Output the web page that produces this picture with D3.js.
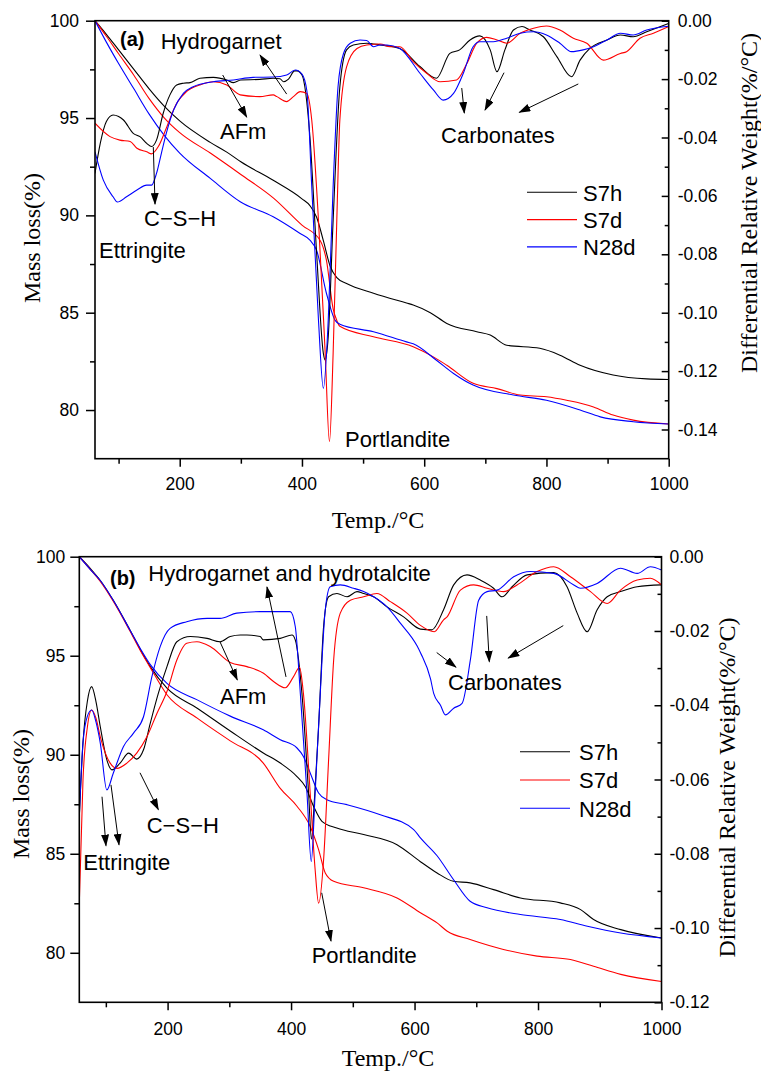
<!DOCTYPE html>
<html>
<head>
<meta charset="utf-8">
<script src="https://cdn.jsdelivr.net/npm/d3@7"></script>
<style>
  body { margin: 0; background: #fff; }
  svg text { fill: #000; }
</style>
</head>
<body>
<svg id="chart" width="761" height="1072"></svg>
<script>
// ---------- Series and tick values ----------
const seriesNames = ["S7h", "S7d", "N28d"];
const tempTicks = [200, 400, 600, 800, 1000];
const tempMinorTicks = [100, 300, 500, 700, 900];
const massTicks = [80, 85, 90, 95, 100];
const massMinorTicks = [82.5, 87.5, 92.5, 97.5];
const dtgTicksA = [0, -0.02, -0.04, -0.06, -0.08, -0.10, -0.12, -0.14];
const dtgMinorTicksA = [-0.01, -0.03, -0.05, -0.07, -0.09, -0.11, -0.13];
const dtgTicksB = [0, -0.02, -0.04, -0.06, -0.08, -0.10, -0.12];
const dtgMinorTicksB = [-0.01, -0.03, -0.05, -0.07, -0.09, -0.11];

// ---------- Panel (a): mass loss (%), [temperature, value] ----------
const massA_S7h = [[61.4,100],[80,99.3],[100,98.5],[125,97.5],[150,96.5],[175,95.6],[200,94.85],[250,93.75],[277,93.25],[300,92.75],[353,91.8],[400,90.85],[413,90.5],[424,89.9],[435,88.7],[446,87.4],[457,86.8],[473,86.5],[517,86.0],[571,85.5],[582,85.4],[610,85.0],[637,84.45],[686,84.02],[708,83.85],[735,83.33],[789,83.17],[822,82.82],[855,82.3],[909,81.8],[964,81.6],[1000,81.57]];
const massA_S7d = [[61.4,100],[80,99.2],[100,98.3],[125,97.2],[150,96.0],[175,95.0],[200,94.25],[250,93.2],[300,92.1],[353,90.9],[400,89.5],[430,88.7],[440,87.7],[451,85.2],[457,84.6],[462,84.3],[517,83.76],[582,83.25],[615,82.73],[637,82.3],[680,81.37],[719,81.1],[757,80.77],[800,80.68],[833,80.5],[877,80.16],[909,79.74],[942,79.48],[1000,79.28]];
const massA_N28d = [[61.4,100],[80,98.9],[100,97.8],[125,96.5],[150,95.2],[175,94.1],[200,93.2],[250,91.9],[299,90.7],[353,89.93],[397,89.07],[413,88.73],[424,88.2],[440,86.0],[454,84.62],[462,84.41],[517,84.02],[571,83.5],[582,83.4],[620,82.56],[648,81.88],[680,81.28],[746,80.77],[800,80.5],[855,80.0],[888,79.65],[942,79.4],[1000,79.28]];

// ---------- Panel (a): differential weight (%/°C) ----------
const dtgA_S7h = [[61.4,-0.0523],[70,-0.042],[80,-0.0345],[91,-0.0323],[100,-0.0328],[108,-0.034],[124,-0.0386],[135,-0.0397],[146,-0.042],[154,-0.0431],[162,-0.0409],[173,-0.0317],[184,-0.0254],[195,-0.022],[206,-0.0214],[217,-0.0212],[233,-0.0197],[255,-0.0194],[277,-0.0203],[288,-0.0212],[300,-0.0203],[331,-0.0201],[353,-0.0197],[364,-0.0199],[370,-0.0209],[378,-0.0200],[388,-0.0172],[392,-0.0172],[400,-0.0186],[413,-0.0397],[424,-0.0797],[435,-0.1139],[438,-0.1162],[443,-0.1082],[451,-0.0683],[462,-0.0226],[473,-0.0100],[484,-0.0083],[506,-0.0077],[528,-0.0083],[560,-0.0095],[593,-0.0157],[620,-0.0197],[642,-0.0112],[658,-0.0100],[675,-0.0066],[691,-0.0052],[708,-0.0100],[719,-0.0175],[732,-0.0100],[746,-0.0032],[760,-0.0020],[773,-0.0032],[795,-0.0055],[817,-0.0123],[841,-0.0192],[855,-0.0135],[871,-0.0095],[899,-0.0066],[921,-0.0049],[942,-0.0055],[964,-0.0038],[1000,-0.0009]];
const dtgA_S7d = [[61.4,-0.0351],[86,-0.0397],[102,-0.0409],[119,-0.0414],[130,-0.0437],[146,-0.0449],[154,-0.0456],[165,-0.0431],[179,-0.0363],[195,-0.0283],[211,-0.0243],[233,-0.0220],[255,-0.0209],[277,-0.0220],[299,-0.0254],[331,-0.0260],[353,-0.0254],[359,-0.0260],[375,-0.0277],[386,-0.0260],[397,-0.0243],[408,-0.0249],[416,-0.0340],[427,-0.0683],[438,-0.1139],[445,-0.1442],[451,-0.1139],[457,-0.0683],[462,-0.0340],[473,-0.0158],[490,-0.0095],[506,-0.0083],[528,-0.0080],[544,-0.0089],[560,-0.0089],[582,-0.0140],[604,-0.0180],[626,-0.0209],[653,-0.0203],[670,-0.0146],[686,-0.0077],[702,-0.0057],[719,-0.0066],[735,-0.0077],[757,-0.0043],[779,-0.0026],[800,-0.0018],[822,-0.0032],[844,-0.0060],[866,-0.0077],[893,-0.0135],[921,-0.0112],[931,-0.0106],[953,-0.0060],[975,-0.0043],[1000,-0.0020]];
const dtgA_N28d = [[61.4,-0.0449],[75,-0.0546],[91,-0.0603],[98,-0.0621],[113,-0.0603],[130,-0.0580],[146,-0.0563],[154,-0.0563],[162,-0.0523],[170,-0.0454],[178,-0.0386],[190,-0.0306],[206,-0.0249],[222,-0.0226],[255,-0.0209],[288,-0.0203],[320,-0.0194],[353,-0.0193],[375,-0.0186],[389,-0.0169],[400,-0.0183],[408,-0.0240],[416,-0.0568],[427,-0.1025],[435,-0.1259],[443,-0.1025],[451,-0.0568],[459,-0.0226],[468,-0.0112],[479,-0.0077],[495,-0.0066],[506,-0.0068],[517,-0.0089],[528,-0.0083],[539,-0.0083],[560,-0.0095],[593,-0.0180],[615,-0.0237],[631,-0.0272],[648,-0.0249],[664,-0.0180],[680,-0.0089],[691,-0.0072],[713,-0.0072],[735,-0.0060],[757,-0.0043],[779,-0.0038],[800,-0.0049],[822,-0.0077],[841,-0.0106],[860,-0.0100],[877,-0.0089],[899,-0.0066],[921,-0.0043],[942,-0.0049],[964,-0.0032],[1000,-0.0019]];

// ---------- Panel (b): mass loss (%) ----------
const massB_S7h = [[57,100],[75,99.4],[91,98.8],[112,97.8],[139,96.3],[156,95.3],[172,94.45],[199,93.36],[248,92.35],[301.5,91.2],[355,90.09],[382.5,89.58],[409.6,88.9],[423,88.4],[436.5,87.39],[450,86.64],[474,86.3],[517.5,85.97],[571.6,85.46],[609.5,84.6],[636.5,84.03],[663,83.61],[690,83.53],[728,83.19],[771.5,82.77],[836,82.52],[869,82.18],[890,81.68],[934,81.17],[1000,80.75]];
const massB_S7d = [[57,100],[75,99.35],[91,98.75],[112,97.75],[139,96.25],[156,95.25],[172,94.4],[199,93.03],[248,91.85],[301.5,90.7],[355,89.58],[382.5,88.3],[409.6,87.4],[431,86.38],[444.6,85.21],[455.4,84.03],[469,83.61],[517.5,83.28],[571.6,82.77],[609.5,82.02],[636.5,81.51],[653,81.09],[690,80.67],[744,80.17],[798.5,79.83],[852.5,79.66],[890,79.32],[934,78.91],[1000,78.55]];
const massB_N28d = [[57,100],[75,99.35],[91,98.8],[112,97.8],[139,96.3],[156,95.35],[172,94.55],[199,93.6],[248,92.77],[301.5,91.95],[355,91.26],[382.5,90.76],[409.6,90.34],[420,89.91],[431,89.08],[444.6,88.07],[458,87.73],[490.6,87.48],[544.6,86.97],[598.6,86.22],[609.5,85.8],[636.5,84.9],[663,83.7],[690,82.6],[717.5,82.27],[771.5,81.93],[836,81.68],[880,81.34],[934,81.0],[1000,80.75]];

// ---------- Panel (b): differential weight (%/°C) ----------
const dtgB_S7h = [[57,-0.0700],[63,-0.0500],[70,-0.0390],[77,-0.0350],[84,-0.0390],[91,-0.0458],[101.6,-0.0547],[109.7,-0.0574],[123,-0.0556],[137,-0.0529],[150,-0.0545],[161,-0.0520],[172,-0.0448],[185,-0.0368],[199,-0.0296],[215,-0.0229],[237,-0.0215],[264,-0.0220],[285,-0.0229],[301.5,-0.0215],[318,-0.0211],[328.5,-0.0211],[350,-0.0215],[355,-0.0224],[382.5,-0.0220],[401.5,-0.0211],[406.8,-0.0224],[417.6,-0.0368],[428.4,-0.0637],[433,-0.0760],[438,-0.0650],[444.6,-0.0458],[452.7,-0.0188],[460.8,-0.0108],[474.4,-0.0099],[490.6,-0.0108],[506.8,-0.0094],[517.5,-0.0099],[533.7,-0.0108],[555.4,-0.0135],[582.3,-0.0162],[609.5,-0.0195],[628,-0.0197],[647,-0.0143],[663.4,-0.0076],[685,-0.0049],[706.6,-0.0063],[728,-0.0085],[741.8,-0.0108],[758,-0.0081],[782.4,-0.0049],[825.5,-0.0043],[847,-0.0081],[863.4,-0.0152],[879.6,-0.0202],[895.8,-0.0143],[912,-0.0108],[933.6,-0.0094],[960.6,-0.0081],[1000,-0.0076]];
const dtgB_S7d = [[57,-0.0933],[63,-0.0600],[70,-0.0460],[77,-0.0413],[84,-0.0435],[91,-0.0485],[107,-0.0556],[118,-0.0570],[134,-0.0556],[150,-0.0529],[166.5,-0.0485],[182.7,-0.0422],[199,-0.0363],[215,-0.0278],[231,-0.0233],[247.5,-0.0229],[269,-0.0242],[301.5,-0.0285],[328.5,-0.0296],[355.4,-0.0314],[371.6,-0.0336],[390.6,-0.0353],[404,-0.0323],[413.8,-0.0298],[420,-0.0368],[431,-0.0637],[439,-0.0843],[444.6,-0.0933],[452.7,-0.0816],[460.8,-0.0547],[469,-0.0278],[479.7,-0.0152],[496,-0.0117],[517.5,-0.0108],[539,-0.0099],[560.8,-0.0121],[587.8,-0.0152],[609.5,-0.0185],[632,-0.0202],[647,-0.0170],[652.7,-0.0162],[674.3,-0.0090],[695.8,-0.0076],[717.5,-0.0085],[744.4,-0.0094],[766,-0.0076],[798.5,-0.0040],[825.5,-0.0027],[852.5,-0.0054],[885,-0.0094],[912,-0.0126],[933.6,-0.0090],[960.6,-0.0063],[982,-0.0058],[1000,-0.0076]];
const dtgB_N28d = [[57,-0.0700],[63,-0.0500],[70,-0.0430],[77,-0.0413],[84,-0.0445],[91,-0.0502],[101.6,-0.0628],[112,-0.0583],[128.6,-0.0511],[144.8,-0.0475],[161,-0.0431],[174.6,-0.0323],[188,-0.0242],[204,-0.0193],[231,-0.0175],[264,-0.0166],[285,-0.0166],[312,-0.0152],[350,-0.0148],[382.5,-0.0148],[398.7,-0.0148],[406.8,-0.0188],[415,-0.0368],[425.8,-0.0637],[432.7,-0.0821],[439,-0.0637],[447.3,-0.0368],[455.4,-0.0143],[463.5,-0.0081],[479.7,-0.0076],[501.3,-0.0085],[517.5,-0.0094],[533.7,-0.0108],[555.4,-0.0135],[577,-0.0179],[604,-0.0240],[610,-0.0260],[626,-0.0330],[631,-0.0368],[642,-0.0400],[650,-0.0426],[663.4,-0.0408],[677,-0.0395],[690.4,-0.0278],[703.9,-0.0117],[717.5,-0.0094],[733.7,-0.0090],[760.6,-0.0054],[787.7,-0.0040],[825.5,-0.0045],[858,-0.0076],[868.7,-0.0085],[895.8,-0.0072],[933.6,-0.0031],[960.6,-0.0045],[982,-0.0027],[1000,-0.0036]];

// ---------- Annotations: text at [temperature, mass %] ----------
const notesA = [
  { text: "(a)", at: [102.3, 98.7], bold: true },
  { text: "Hydrogarnet", at: [168.8, 98.55] },
  { text: "AFm", at: [265.9, 93.92] },
  { text: "C\u2212S\u2212H", at: [141.6, 89.45] },
  { text: "Ettringite", at: [67.9, 87.81] },
  { text: "Carbonates", at: [627.5, 93.72] },
  { text: "Portlandite", at: [470.4, 78.09] }
];
const arrowsA = [
  [[375.0, 96.23], [331.4, 98.24]],
  [[270.3, 97.21], [309.6, 95.05]],
  [[156.8, 93.51], [159.6, 90.58]],
  [[661.4, 96.54], [665.6, 95.26]],
  [[730.6, 97.33], [699.5, 95.41]],
  [[852.1, 96.75], [755.6, 95.29]]
];
const notesB = [
  { text: "(b)", at: [106.7, 98.57], bold: true },
  { text: "Hydrogarnet and hydrotalcite", at: [168.8, 98.77] },
  { text: "AFm", at: [284.9, 92.57] },
  { text: "C\u2212S\u2212H", at: [166.2, 86.07] },
  { text: "Ettringite", at: [63.5, 84.2] },
  { text: "Carbonates", at: [654.2, 93.28] },
  { text: "Portlandite", at: [433.4, 79.46] }
];
const arrowsB = [
  [[391.8, 93.93], [361.0, 98.47]],
  [[284.9, 95.70], [312.9, 93.78]],
  [[155.3, 89.09], [185.0, 87.23]],
  [[93.8, 87.88], [100.2, 85.41]],
  [[108.3, 88.48], [121.3, 85.45]],
  [[635.9, 95.16], [667.1, 94.42]],
  [[716.9, 97.01], [721.1, 94.70]],
  [[840.9, 96.52], [751.8, 94.88]],
  [[449.6, 83.03], [464.7, 80.59]]
];

// ---------- Layout ----------
const colors = ["#000000", "#ff0000", "#0000ff"];
const sansFont = "'Liberation Sans', Arial, Helvetica, sans-serif";
const serifFont = "'Liberation Serif', 'Times New Roman', Times, serif";

const panels = [
  {
    id: "a", left: 95, right: 668.7, top: 20.7, bottom: 458.7,
    tDomain: [61.4, 1000], dtgDomain: [-0.15, 0],
    mass: [massA_S7h, massA_S7d, massA_N28d],
    dtg: [dtgA_S7h, dtgA_S7d, dtgA_N28d],
    dtgTicks: dtgTicksA, dtgMinor: dtgMinorTicksA,
    notes: notesA, arrows: arrowsA,
    leftPad: 7, rightPad: 9, bottomLabelY: 31.5,
    leftTitle: { x: 40, y: 238 }, rightTitle: { x: 757, y: 203 },
    bottomTitle: { x: 378, y: 528 },
    legend: { x0: 527, x1: 577, tx: 583, y: 192.3, dy: 27.3 }
  },
  {
    id: "b", left: 79.3, right: 661.5, top: 556.7, bottom: 1002.3,
    tDomain: [57, 1000], dtgDomain: [-0.12, 0],
    mass: [massB_S7h, massB_S7d, massB_N28d],
    dtg: [dtgB_S7h, dtgB_S7d, dtgB_N28d],
    dtgTicks: dtgTicksB, dtgMinor: dtgMinorTicksB,
    notes: notesB, arrows: arrowsB,
    leftPad: 5, rightPad: 8, bottomLabelY: 33,
    leftTitle: { x: 28.5, y: 794 }, rightTitle: { x: 735, y: 787.5 },
    bottomTitle: { x: 388, y: 1066 },
    legend: { x0: 520, x1: 570, tx: 579, y: 751.7, dy: 28.3 }
  }
];

const svg = d3.select("#chart");
const defs = svg.append("defs");
defs.append("marker")
  .attr("id", "arrowHead")
  .attr("markerUnits", "userSpaceOnUse")
  .attr("markerWidth", 12).attr("markerHeight", 8)
  .attr("refX", 11).attr("refY", 4)
  .attr("orient", "auto")
  .append("path").attr("d", "M0,0 L12,4 L0,8 Z").attr("fill", "#000");

const fmtDtg = v => (Math.abs(v) < 1e-9 ? 0 : v).toFixed(2);

panels.forEach(p => {
  const x = d3.scaleLinear().domain(p.tDomain).range([p.left, p.right]);
  const yL = d3.scaleLinear().domain([77.5, 100]).range([p.bottom, p.top]);
  const yR = d3.scaleLinear().domain(p.dtgDomain).range([p.bottom, p.top]);
  const g = svg.append("g").attr("class", "panel-" + p.id);

  defs.append("clipPath").attr("id", "clip-" + p.id)
    .append("rect")
    .attr("x", p.left).attr("y", p.top)
    .attr("width", p.right - p.left).attr("height", p.bottom - p.top);

  // curves
  const plot = g.append("g").attr("clip-path", "url(#clip-" + p.id + ")");
  const lineL = d3.line().x(d => x(d[0])).y(d => yL(d[1])).curve(d3.curveMonotoneX);
  const lineR = d3.line().x(d => x(d[0])).y(d => yR(d[1])).curve(d3.curveMonotoneX);
  p.mass.forEach((s, i) => {
    plot.append("path").attr("d", lineL(s)).attr("fill", "none")
      .attr("stroke", colors[i]).attr("stroke-width", 1.1);
  });
  p.dtg.forEach((s, i) => {
    plot.append("path").attr("d", lineR(s)).attr("fill", "none")
      .attr("stroke", colors[i]).attr("stroke-width", 1.1);
  });

  // axes
  const styleAxis = sel => {
    sel.select(".domain").remove();
    sel.selectAll("line").attr("stroke", "#000").attr("stroke-width", 1.5);
    sel.selectAll("text").style("font-family", sansFont).style("font-size", "17.5px").attr("fill", "#000");
  };
  g.append("g").attr("transform", `translate(${p.left},0)`)
    .call(d3.axisLeft(yL).tickValues(massTicks).tickSize(9).tickPadding(p.leftPad).tickFormat(d3.format("d")))
    .call(styleAxis);
  g.append("g").attr("transform", `translate(${p.left},0)`)
    .call(d3.axisLeft(yL).tickValues(massMinorTicks).tickSize(5).tickFormat(""))
    .call(styleAxis);
  g.append("g").attr("transform", `translate(${p.right},0)`)
    .call(d3.axisRight(yR).tickValues(p.dtgTicks).tickSize(-7).tickPadding(p.rightPad).tickFormat(fmtDtg))
    .call(styleAxis);
  g.append("g").attr("transform", `translate(${p.right},0)`)
    .call(d3.axisRight(yR).tickValues(p.dtgMinor).tickSize(-4).tickFormat(""))
    .call(styleAxis);
  const bx = g.append("g").attr("transform", `translate(0,${p.bottom})`)
    .call(d3.axisBottom(x).tickValues(tempTicks).tickSize(8).tickFormat(d3.format("d")))
    .call(styleAxis);
  bx.selectAll("text").attr("dy", null).attr("y", p.bottomLabelY);
  g.append("g").attr("transform", `translate(0,${p.bottom})`)
    .call(d3.axisBottom(x).tickValues(tempMinorTicks).tickSize(5).tickFormat(""))
    .call(styleAxis);

  // frame
  g.append("rect")
    .attr("x", p.left).attr("y", p.top)
    .attr("width", p.right - p.left).attr("height", p.bottom - p.top)
    .attr("fill", "none").attr("stroke", "#000").attr("stroke-width", 1.6);

  // axis titles
  g.append("text")
    .attr("transform", `translate(${p.leftTitle.x},${p.leftTitle.y}) rotate(-90)`)
    .attr("text-anchor", "middle")
    .style("font-family", serifFont).style("font-size", "24px")
    .text("Mass loss(%)");
  g.append("text")
    .attr("transform", `translate(${p.rightTitle.x},${p.rightTitle.y}) rotate(-90)`)
    .attr("text-anchor", "middle")
    .style("font-family", serifFont).style("font-size", "24px")
    .text("Differential Relative Weight(%/\u00B0C)");
  g.append("text")
    .attr("x", p.bottomTitle.x).attr("y", p.bottomTitle.y)
    .attr("text-anchor", "middle")
    .style("font-family", serifFont).style("font-size", "24px")
    .text("Temp./\u00B0C");

  // annotations
  p.notes.forEach(n => {
    g.append("text")
      .attr("x", x(n.at[0])).attr("y", yL(n.at[1]))
      .style("font-family", sansFont)
      .style("font-size", n.bold ? "20px" : "22px")
      .style("font-weight", n.bold ? "bold" : "normal")
      .text(n.text);
  });
  p.arrows.forEach(a => {
    g.append("line")
      .attr("x1", x(a[0][0])).attr("y1", yL(a[0][1]))
      .attr("x2", x(a[1][0])).attr("y2", yL(a[1][1]))
      .attr("stroke", "#000").attr("stroke-width", 1)
      .attr("marker-end", "url(#arrowHead)");
  });

  // legend
  const lg = g.append("g");
  seriesNames.forEach((name, i) => {
    const yy = p.legend.y + i * p.legend.dy;
    lg.append("line")
      .attr("x1", p.legend.x0).attr("x2", p.legend.x1)
      .attr("y1", yy).attr("y2", yy)
      .attr("stroke", colors[i]).attr("stroke-width", 1.1);
    lg.append("text")
      .attr("x", p.legend.tx).attr("y", yy + 8.2)
      .style("font-family", sansFont).style("font-size", "22px")
      .text(name);
  });
});
</script>
</body>
</html>
